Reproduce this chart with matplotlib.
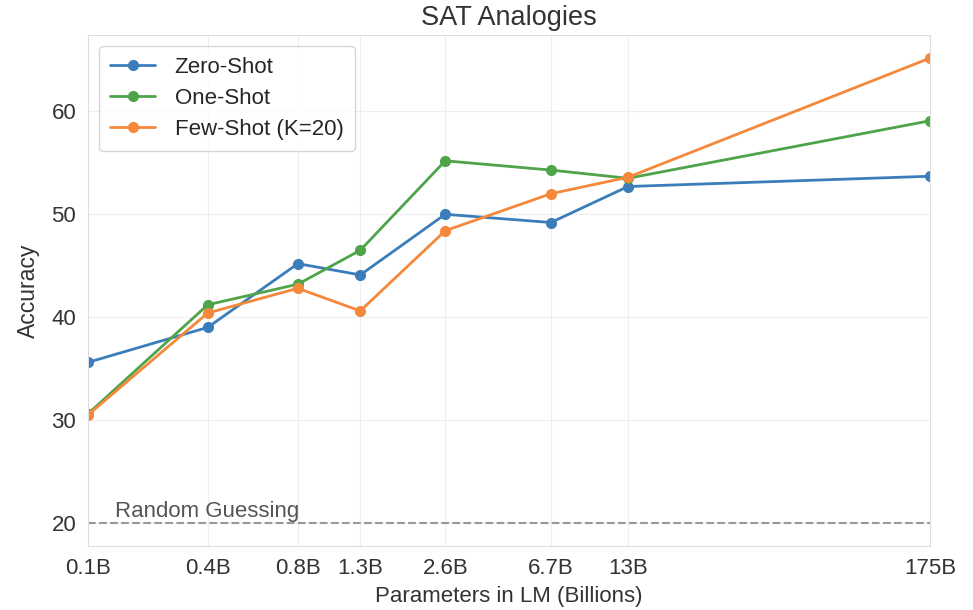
import numpy as np
import matplotlib
matplotlib.use('Agg')
from matplotlib import pyplot as plt
from matplotlib.ticker import FixedLocator, NullLocator
import seaborn as sns

sns.set_style('whitegrid')
plt.rcParams['font.family'] = ['Liberation Sans', 'DejaVu Sans']

# model sizes in billions and the labels used for them
params = [0.125, 0.35, 0.76, 1.3, 2.7, 6.7, 13, 175]
size_labels = ['0.1B', '0.4B', '0.8B', '1.3B', '2.6B', '6.7B', '13B', '175B']

zero_shot = [35.6, 39.0, 45.2, 44.1, 50.0, 49.2, 52.7, 53.7]
one_shot = [30.6, 41.2, 43.2, 46.5, 55.2, 54.3, 53.5, 59.1]
few_shot = [30.5, 40.4, 42.8, 40.6, 48.4, 52.0, 53.6, 65.2]
random_guess = 20

fig, ax = plt.subplots(figsize=(9.73, 6.1), dpi=100)
fig.subplots_adjust(left=0.0905, right=0.956, top=0.943, bottom=0.105)

ax.plot(params, zero_shot, '-o', color='#3b7dba', lw=2, ms=7, label='Zero-Shot')
ax.plot(params, one_shot, '-o', color='#4fa44a', lw=2, ms=7, label='One-Shot')
ax.plot(params, few_shot, '-o', color='#f5883a', lw=2, ms=7, label='Few-Shot (K=20)')
ax.plot(params, [random_guess] * len(params), '--', color='#999999', lw=1.5)
ax.text(0.157, random_guess + 0.05, 'Random Guessing', fontsize=16, color='#555555',
        va='bottom')

ax.set_xscale('log')
ax.set_xlim(params[0], params[-1])
ax.xaxis.set_major_locator(FixedLocator(params))
ax.xaxis.set_minor_locator(NullLocator())
ax.set_xticklabels(size_labels)
ax.set_yticks([20, 30, 40, 50, 60])

ax.tick_params(labelsize=16, colors='#333333', pad=5)
ax.set_xlabel('Parameters in LM (Billions)', fontsize=16, color='#333333', labelpad=5)
ax.set_ylabel('Accuracy', fontsize=16.5, color='#333333', labelpad=8)
ax.set_title('SAT Analogies', fontsize=19.5, color='#333333', pad=7)
for s in ax.spines.values():
    s.set_color('#dddddd')
ax.grid(color='#eeeeee')

ax.legend(loc='upper left', fontsize=16, borderpad=0.5, handlelength=2.0,
          handletextpad=0.9, labelspacing=0.45, frameon=True)

plt.savefig('out.png')
